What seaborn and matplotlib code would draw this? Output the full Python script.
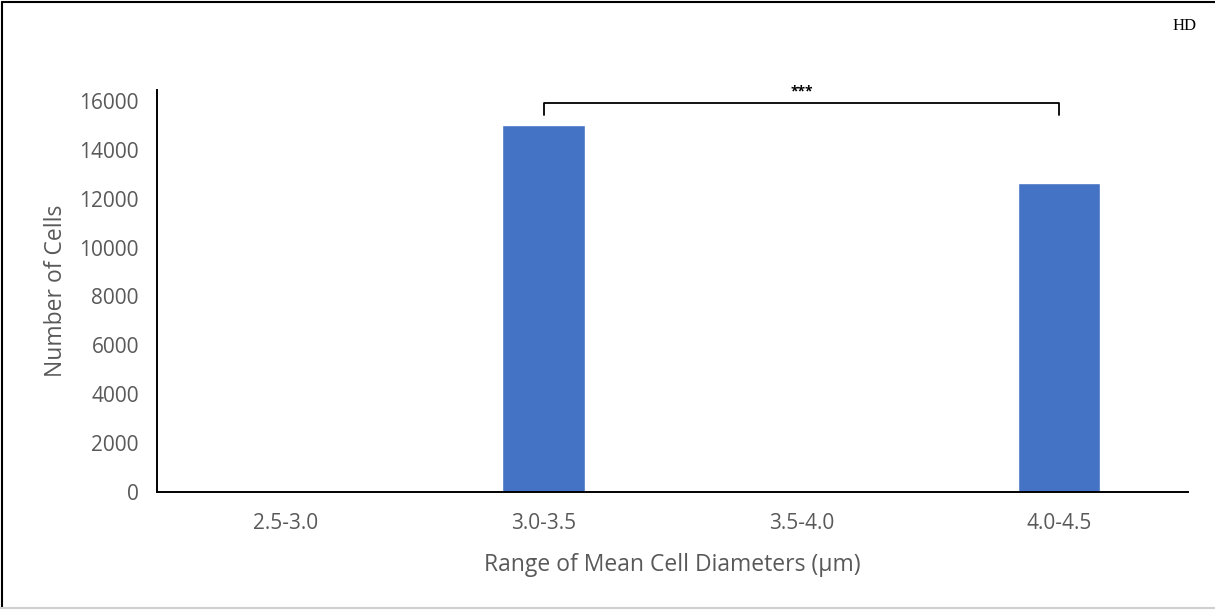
import matplotlib
matplotlib.use("Agg")
import matplotlib.pyplot as plt
import seaborn as sns
import pandas as pd
from matplotlib.lines import Line2D

# Cell counts per diameter bin
diameter_ranges = ["2.5-3.0", "3.0-3.5", "3.5-4.0", "4.0-4.5"]
cell_counts = [0, 15000, 0, 12650]
y_ticks = [0, 2000, 4000, 6000, 8000, 10000, 12000, 14000, 16000]

# Significance bracket between the two populated bins
bracket_pair = ("3.0-3.5", "4.0-4.5")
bracket_top = 15900
bracket_drop = 15430
bracket_label = "***"

df = pd.DataFrame({"range": diameter_ranges, "count": cell_counts})

sns.set_style("white")
plt.rcParams["font.family"] = ["Open Sans", "DejaVu Sans"]

text_grey = "#595959"
bar_blue = "#4472C4"

fig = plt.figure(figsize=(12.15, 6.11), dpi=100)
ax = fig.add_axes([0.1292, 0.1948, 0.8486, 0.658])

sns.barplot(data=df, x="range", y="count", color=bar_blue, width=0.32,
            saturation=1, ax=ax, order=diameter_ranges)

ax.set_xlim(-0.5, len(diameter_ranges) - 0.5)
ax.set_ylim(0, 16450)
ax.set_yticks(y_ticks)
ax.set_yticklabels([str(v) for v in y_ticks])

for s in ["top", "right"]:
    ax.spines[s].set_visible(False)
for s in ["left", "bottom"]:
    ax.spines[s].set_color("black")
    ax.spines[s].set_linewidth(1.4)

ax.tick_params(axis="y", direction="in", length=9, width=1, color="#d9d9d9",
               labelsize=15, labelcolor=text_grey, pad=13)
ax.tick_params(axis="x", length=0, labelsize=15, labelcolor=text_grey, pad=15)

ax.set_xlabel("Range of Mean Cell Diameters (\u00b5m)", fontsize=16.5,
              color=text_grey, labelpad=14)
ax.set_ylabel("Number of Cells", fontsize=16.5, color=text_grey, labelpad=8)

# significance bracket
x1 = diameter_ranges.index(bracket_pair[0])
x2 = diameter_ranges.index(bracket_pair[1])
ax.plot([x1, x1, x2, x2], [bracket_drop, bracket_top, bracket_top, bracket_drop],
        color="black", lw=1.3, clip_on=False)
ax.text((x1 + x2) / 2, bracket_top + 180, bracket_label, ha="center",
        va="bottom", fontsize=10, color="black", fontweight="bold")

# corner tag
fig.text(0.9745, 0.957, "HD", ha="center", va="center", fontsize=12,
         family="Liberation Serif", color="black")

# outer frame
fig.add_artist(Line2D([0.002, 0.002], [0.005, 0.996], transform=fig.transFigure,
                      color="black", lw=1.5))
fig.add_artist(Line2D([0.002, 1.0], [0.996, 0.996], transform=fig.transFigure,
                      color="black", lw=1.5))
fig.add_artist(Line2D([0.0, 1.0], [0.005, 0.005], transform=fig.transFigure,
                      color="#d0d0d0", lw=1.5))

fig.savefig("out.png", dpi=100, facecolor="white")
